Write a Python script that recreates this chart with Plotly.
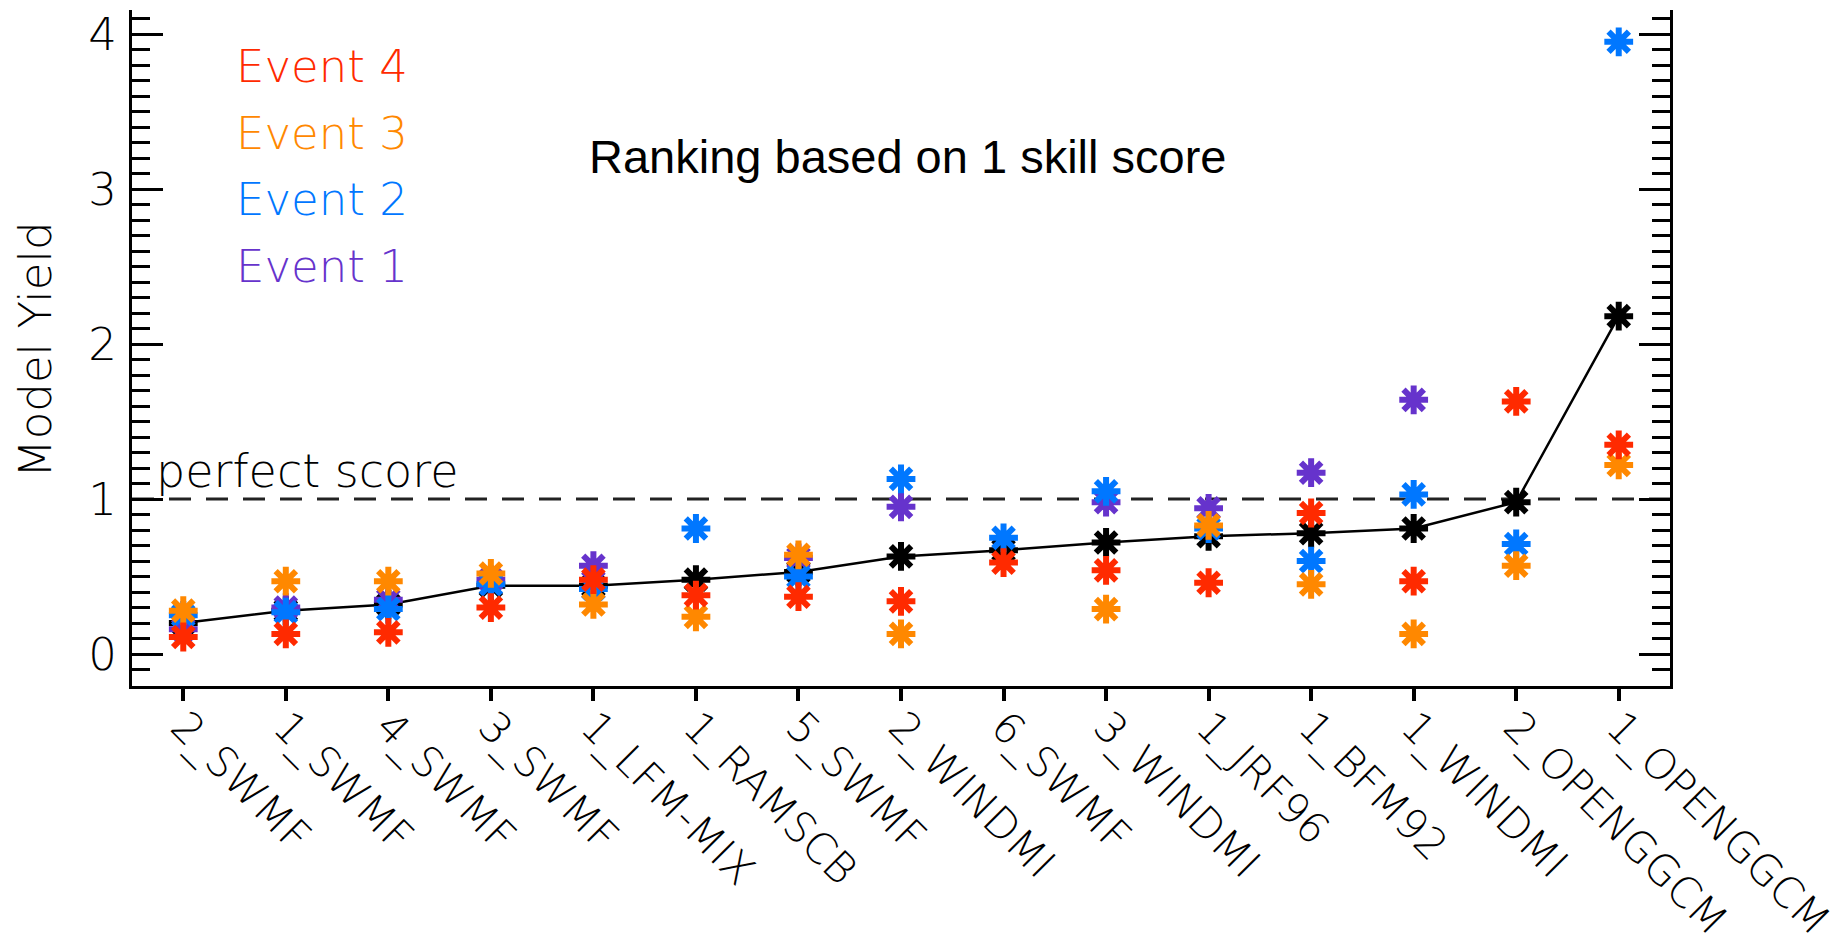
import plotly.graph_objects as go

# Model names, ordered by ranking
models = ["2_SWMF", "1_SWMF", "4_SWMF", "3_SWMF", "1_LFM-MIX", "1_RAMSCB", "5_SWMF",
          "2_WINDMI", "6_SWMF", "3_WINDMI", "1_JRF96", "1_BFM92", "1_WINDMI",
          "2_OPENGGCM", "1_OPENGGCM"]

# Model yield per event (None = no result for that event)
event4 = [0.11, 0.13, 0.14, 0.30, 0.48, 0.38, 0.37, 0.34, 0.59, 0.54, 0.46, 0.91, 0.47, 1.63, 1.35]
event3 = [0.28, 0.47, 0.47, 0.52, 0.32, 0.24, 0.64, 0.13, None, 0.29, 0.83, 0.45, 0.13, 0.57, 1.22]
event2 = [0.25, 0.27, 0.29, 0.45, 0.42, 0.81, 0.50, 1.13, 0.75, 1.05, 0.81, 0.60, 1.03, 0.71, 3.95]
event1 = [0.16, 0.30, 0.35, 0.48, 0.57, None, 0.62, 0.95, None, 0.98, 0.94, 1.17, 1.64, None, None]
# Average yield over events
average = [0.20, 0.28, 0.32, 0.44, 0.44, 0.48, 0.53, 0.63, 0.67, 0.72, 0.76, 0.78, 0.81, 0.98, 2.18]

event_names = ["Event 4", "Event 3", "Event 2", "Event 1"]
event_colors = ["#ff2a00", "#ff8800", "#0077ff", "#6633cc"]

AX_FONT = dict(family="DejaVu Sans", size=45, color="black", weight=200)
XTICK_FONT = dict(family="DejaVu Sans", size=42, color="black", weight=200)
MARKER_SIZE = 24
MARKER_LW = 6

fig = go.Figure()

x = list(range(len(models)))

# perfect score reference line
fig.add_trace(go.Scatter(
    x=[-0.5, 14.5], y=[1, 1], mode="lines",
    line=dict(color="#222222", width=3, dash="22px,15px"),
    hoverinfo="skip", showlegend=False,
))

# average line with markers
fig.add_trace(go.Scatter(
    x=x, y=average, mode="lines+markers",
    line=dict(color="black", width=2.5),
    marker=dict(symbol="asterisk-open", size=MARKER_SIZE, color="black",
                line=dict(color="black", width=MARKER_LW)),
    showlegend=False,
))

# individual events, drawn Event 1 first so Event 4 lies on top
for name, vals, col in reversed(list(zip(event_names, [event4, event3, event2, event1], event_colors))):
    fig.add_trace(go.Scatter(
        x=x, y=vals, mode="markers", name=name,
        marker=dict(symbol="asterisk-open", size=MARKER_SIZE, color=col,
                    line=dict(color=col, width=MARKER_LW)),
        showlegend=False,
    ))

# event labels
label_y = [3.79, 3.36, 2.93, 2.50]
for name, col, yy in zip(event_names, event_colors, label_y):
    fig.add_annotation(
        x=0.49, y=yy, xref="x", yref="y", text=name, showarrow=False,
        xanchor="left", yanchor="middle",
        font=dict(family="DejaVu Sans", size=45, color=col, weight=200),
    )

fig.add_annotation(
    x=-0.29, y=1.0, xref="x", yref="y", text="perfect score", showarrow=False,
    xanchor="left", yanchor="bottom", yshift=-1,
    font=dict(family="DejaVu Sans", size=46, color="black", weight=200),
)

fig.add_annotation(
    x=0.504, y=(686 - 157) / 676, xref="paper", yref="paper",
    text="Ranking based on 1 skill score", showarrow=False,
    xanchor="center", yanchor="middle",
    font=dict(family="Liberation Sans", size=47, color="black"),
)

fig.add_annotation(
    x=(35 - 132) / 1538, y=(686 - 350) / 676, xref="paper", yref="paper",
    text="Model Yield", showarrow=False, textangle=-90,
    xanchor="center", yanchor="middle", font=AX_FONT,
)

fig.update_xaxes(
    range=[-0.5, 14.5], tickmode="array", tickvals=x, ticktext=models,
    tickangle=45, ticks="outside", ticklen=12, tickwidth=4, tickcolor="black",
    showline=True, linecolor="black", linewidth=3, showgrid=False, zeroline=False,
    tickfont=XTICK_FONT, automargin=False, ticklabeloverflow="allow",
    ticklabelstandoff=-16,
)
fig.update_yaxes(
    range=[-0.206, 4.155], tickmode="array", tickvals=[0, 1, 2, 3, 4],
    ticks="inside", ticklen=31, tickwidth=3, tickcolor="black",
    minor=dict(dtick=0.1, ticks="inside", ticklen=18, tickwidth=3, tickcolor="black", showgrid=False),
    showline=True, linecolor="black", linewidth=3, mirror="ticks",
    showgrid=False, zeroline=False, tickfont=AX_FONT, ticklabelstandoff=3,
    automargin=False,
)

fig.update_layout(
    width=1830, height=943,
    margin=dict(l=132, r=160, t=10, b=257, pad=0, autoexpand=False),
    plot_bgcolor="white", paper_bgcolor="white",
    showlegend=False,
)

fig.write_html("out.html")
